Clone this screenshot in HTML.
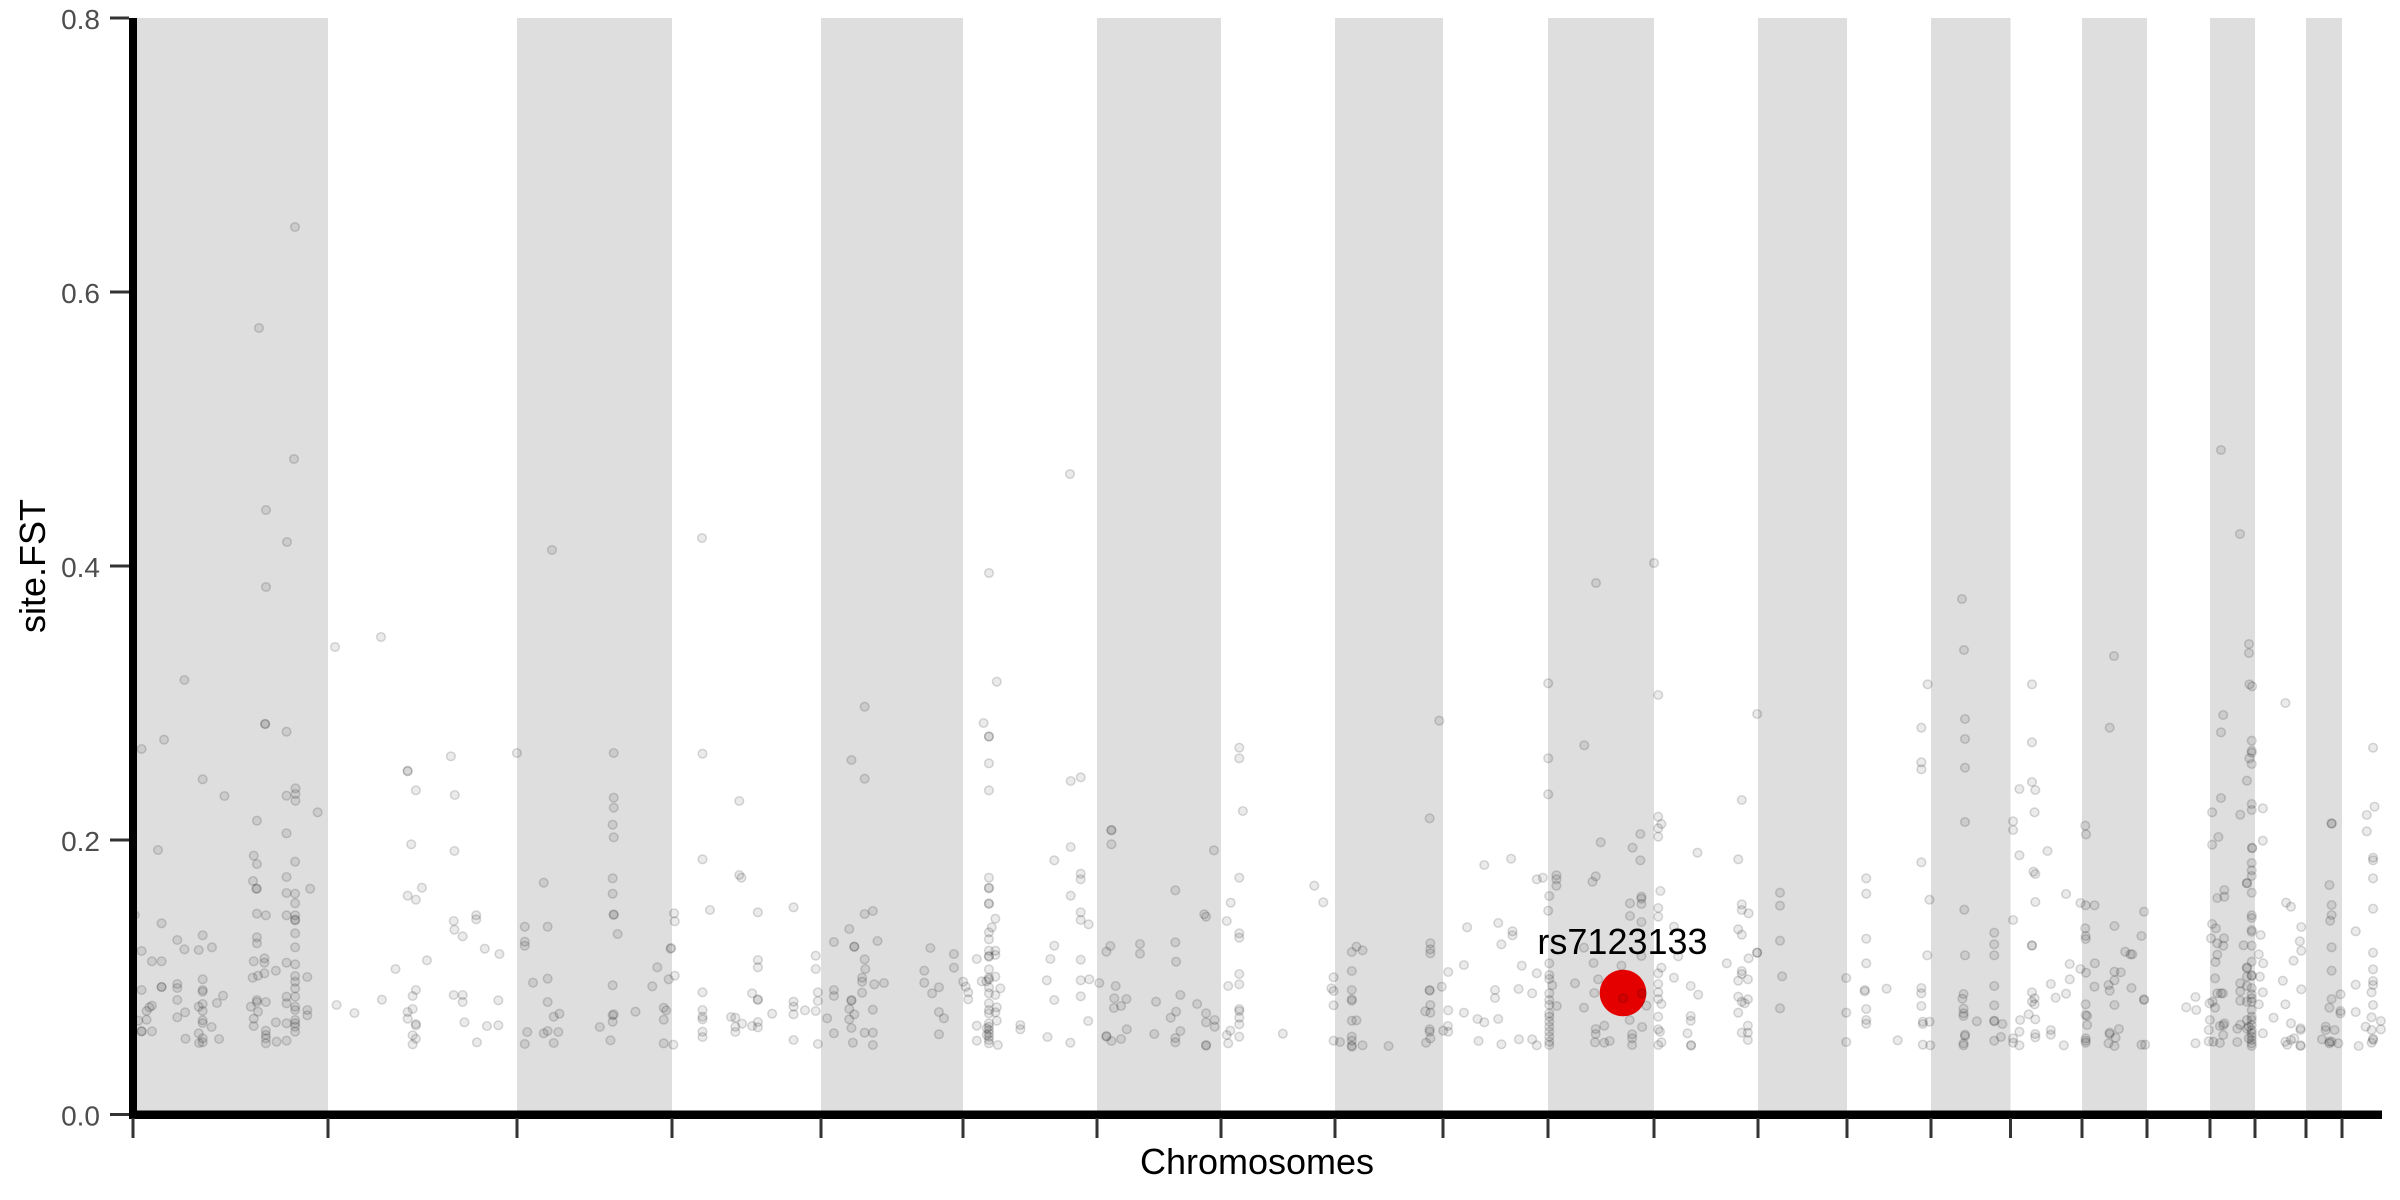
<!DOCTYPE html>
<html><head><meta charset="utf-8"><style>
html,body{margin:0;padding:0;background:#fff;}
svg{display:block;font-family:"Liberation Sans",Arial,sans-serif;}
.p{fill:#000;fill-opacity:.08;stroke:#000;stroke-opacity:.15;stroke-width:4.4;}
.q{fill:#000;fill-opacity:.08;stroke:#000;stroke-opacity:.15;stroke-width:1.5;}
.t{font-size:28px;fill:#4d4d4d;text-anchor:end;}
</style></head><body>
<svg width="2400" height="1200" viewBox="0 0 2400 1200" xmlns="http://www.w3.org/2000/svg">
<defs>
<ellipse id="a" cx="0" cy="0" rx="12.04" ry="12.9"/>
<ellipse id="b" cx="0" cy="0" rx="11.62" ry="12.9"/>
</defs>
<rect width="2400" height="1200" fill="#fff"/>
<g fill="#dedede">
<rect x="133" y="18" width="195" height="1094"/>
<rect x="517" y="18" width="155" height="1094"/>
<rect x="821" y="18" width="142" height="1094"/>
<rect x="1097" y="18" width="124" height="1094"/>
<rect x="1335" y="18" width="108" height="1094"/>
<rect x="1548" y="18" width="106" height="1094"/>
<rect x="1758" y="18" width="89" height="1094"/>
<rect x="1931" y="18" width="79.5" height="1094"/>
<rect x="2082" y="18" width="65" height="1094"/>
<rect x="2210" y="18" width="45" height="1094"/>
<rect x="2306" y="18" width="36" height="1094"/>
</g>
<circle cx="1623" cy="993" r="23.3" fill="#e50000"/>
<g class="q">
<circle cx="295" cy="227" r="4.3"/><circle cx="259" cy="328" r="4.3"/><circle cx="294" cy="459" r="4.3"/><circle cx="266" cy="510" r="4.3"/><circle cx="287" cy="542" r="4.3"/><circle cx="266" cy="587" r="4.3"/><circle cx="381" cy="637" r="4.3"/><circle cx="335" cy="647" r="4.3"/><circle cx="552" cy="550" r="4.3"/><circle cx="702" cy="538" r="4.3"/><circle cx="1070" cy="474" r="4.3"/><circle cx="989" cy="573" r="4.3"/><circle cx="1596" cy="583" r="4.3"/><circle cx="1654" cy="563" r="4.3"/><circle cx="1962" cy="599" r="4.3"/><circle cx="1964" cy="650" r="4.3"/><circle cx="2114" cy="656" r="4.3"/><circle cx="2221" cy="450" r="4.3"/><circle cx="2240" cy="534" r="4.3"/><circle cx="2249" cy="644" r="4.3"/><circle cx="2249" cy="653" r="4.3"/>
</g>
<g class="p" transform="translate(133,680) scale(0.35714,0.33333)">
<use href="#a" x="144" y="0"/><use href="#a" x="370" y="132"/><use href="#a" x="370" y="132"/><use href="#a" x="430" y="155"/><use href="#a" x="87" y="179"/><use href="#a" x="24" y="207"/><use href="#a" x="195" y="298"/><use href="#a" x="256" y="348"/><use href="#a" x="455" y="325"/><use href="#a" x="455" y="342"/><use href="#a" x="430" y="347"/><use href="#a" x="455" y="362"/><use href="#a" x="517" y="397"/><use href="#a" x="347" y="422"/><use href="#a" x="430" y="460"/><use href="#a" x="70" y="510"/><use href="#a" x="338" y="527"/><use href="#a" x="347" y="552"/><use href="#a" x="454" y="545"/><use href="#a" x="430" y="591"/><use href="#a" x="336" y="603"/><use href="#a" x="347" y="626"/><use href="#a" x="345" y="626"/><use href="#a" x="430" y="639"/><use href="#a" x="454" y="641"/><use href="#a" x="496" y="626"/><use href="#a" x="454" y="670"/><use href="#a" x="347" y="701"/><use href="#a" x="372" y="706"/><use href="#a" x="430" y="706"/><use href="#a" x="454" y="706"/><use href="#a" x="454" y="719"/><use href="#a" x="454" y="721"/><use href="#a" x="5" y="705"/><use href="#a" x="80" y="730"/><use href="#a" x="454" y="760"/><use href="#a" x="195" y="766"/><use href="#a" x="124" y="780"/><use href="#a" x="144" y="808"/><use href="#a" x="184" y="810"/><use href="#a" x="221" y="802"/><use href="#a" x="24" y="813"/><use href="#a" x="347" y="772"/><use href="#a" x="347" y="790"/><use href="#a" x="454" y="802"/><use href="#a" x="53" y="844"/><use href="#a" x="80" y="844"/><use href="#a" x="338" y="844"/><use href="#a" x="368" y="835"/><use href="#a" x="368" y="848"/><use href="#a" x="430" y="848"/><use href="#a" x="454" y="853"/><use href="#a" x="400" y="872"/><use href="#a" x="368" y="880"/><use href="#a" x="350" y="887"/><use href="#a" x="335" y="893"/><use href="#a" x="454" y="888"/><use href="#a" x="454" y="905"/><use href="#a" x="488" y="891"/><use href="#a" x="195" y="898"/><use href="#a" x="24" y="930"/><use href="#a" x="80" y="921"/><use href="#a" x="80" y="921"/><use href="#a" x="124" y="912"/><use href="#a" x="124" y="924"/><use href="#a" x="195" y="930"/><use href="#a" x="195" y="935"/><use href="#a" x="252" y="947"/><use href="#a" x="454" y="925"/><use href="#a" x="454" y="950"/><use href="#a" x="430" y="950"/><use href="#a" x="347" y="960"/><use href="#a" x="347" y="966"/><use href="#a" x="372" y="966"/><use href="#a" x="124" y="960"/><use href="#a" x="235" y="969"/><use href="#a" x="195" y="972"/><use href="#a" x="184" y="980"/><use href="#a" x="330" y="980"/><use href="#a" x="430" y="970"/><use href="#a" x="454" y="980"/><use href="#a" x="454" y="990"/><use href="#a" x="488" y="990"/><use href="#a" x="488" y="1006"/><use href="#a" x="38" y="993"/><use href="#a" x="53" y="977"/><use href="#a" x="46" y="982"/><use href="#a" x="146" y="997"/><use href="#a" x="195" y="993"/><use href="#a" x="350" y="995"/><use href="#a" x="124" y="1012"/><use href="#a" x="38" y="1019"/><use href="#a" x="15" y="1022"/><use href="#a" x="24" y="1054"/><use href="#a" x="24" y="1054"/><use href="#a" x="53" y="1054"/><use href="#a" x="195" y="1021"/><use href="#a" x="195" y="1029"/><use href="#a" x="220" y="1041"/><use href="#a" x="184" y="1060"/><use href="#a" x="338" y="1016"/><use href="#a" x="338" y="1038"/><use href="#a" x="400" y="1027"/><use href="#a" x="430" y="1030"/><use href="#a" x="454" y="1020"/><use href="#a" x="454" y="1030"/><use href="#a" x="454" y="1040"/><use href="#a" x="454" y="1055"/><use href="#a" x="372" y="1052"/><use href="#a" x="372" y="1065"/><use href="#a" x="372" y="1075"/><use href="#a" x="372" y="1090"/><use href="#a" x="402" y="1085"/><use href="#a" x="430" y="1082"/><use href="#a" x="147" y="1076"/><use href="#a" x="241" y="1077"/><use href="#a" x="195" y="1087"/><use href="#a" x="185" y="1089"/><use href="#a" x="195" y="1075"/>
<use href="#a" x="769" y="272"/><use href="#a" x="769" y="274"/><use href="#a" x="792" y="331"/><use href="#a" x="890" y="229"/><use href="#a" x="901" y="345"/><use href="#a" x="779" y="493"/><use href="#a" x="900" y="513"/><use href="#a" x="769" y="647"/><use href="#a" x="792" y="659"/><use href="#a" x="809" y="623"/><use href="#a" x="898" y="723"/><use href="#a" x="900" y="749"/><use href="#a" x="923" y="769"/><use href="#a" x="961" y="706"/><use href="#a" x="961" y="718"/><use href="#a" x="985" y="806"/><use href="#a" x="1026" y="822"/><use href="#a" x="823" y="841"/><use href="#a" x="735" y="867"/><use href="#a" x="792" y="930"/><use href="#a" x="783" y="948"/><use href="#a" x="898" y="945"/><use href="#a" x="923" y="945"/><use href="#a" x="923" y="966"/><use href="#a" x="1023" y="961"/><use href="#a" x="697" y="959"/><use href="#a" x="570" y="975"/><use href="#a" x="620" y="999"/><use href="#a" x="769" y="996"/><use href="#a" x="783" y="987"/><use href="#a" x="769" y="1016"/><use href="#a" x="792" y="1032"/><use href="#a" x="792" y="1036"/><use href="#a" x="783" y="1066"/><use href="#a" x="792" y="1076"/><use href="#a" x="783" y="1093"/><use href="#a" x="928" y="1027"/><use href="#a" x="991" y="1038"/><use href="#a" x="1023" y="1036"/><use href="#a" x="963" y="1087"/><use href="#a" x="1075" y="219"/>
<use href="#a" x="1346" y="219"/><use href="#a" x="1346" y="353"/><use href="#a" x="1346" y="383"/><use href="#a" x="1343" y="434"/><use href="#a" x="1346" y="472"/><use href="#a" x="1150" y="608"/><use href="#a" x="1343" y="595"/><use href="#a" x="1343" y="641"/><use href="#a" x="1346" y="703"/><use href="#a" x="1346" y="705"/><use href="#a" x="1357" y="762"/><use href="#a" x="1097" y="740"/><use href="#a" x="1161" y="740"/><use href="#a" x="1097" y="785"/><use href="#a" x="1097" y="797"/><use href="#a" x="1120" y="908"/><use href="#a" x="1161" y="896"/><use href="#a" x="1343" y="916"/><use href="#a" x="1161" y="966"/><use href="#a" x="1178" y="1010"/><use href="#a" x="1194" y="1001"/><use href="#a" x="1104" y="1056"/><use href="#a" x="1150" y="1060"/><use href="#a" x="1161" y="1053"/><use href="#a" x="1191" y="1056"/><use href="#a" x="1097" y="1092"/><use href="#a" x="1178" y="1089"/><use href="#a" x="1307" y="1041"/><use href="#a" x="1343" y="1006"/><use href="#a" x="1346" y="1003"/><use href="#a" x="1343" y="1025"/><use href="#a" x="1407" y="995"/><use href="#a" x="1337" y="1081"/><use href="#a" x="1468" y="862"/><use href="#a" x="1454" y="919"/><use href="#a" x="1500" y="898"/><use href="#a" x="1486" y="983"/><use href="#a" x="1493" y="991"/><use href="#a" x="1486" y="1019"/><use href="#a" x="1486" y="1090"/><use href="#a" x="1513" y="1094"/><use href="#a" x="1515" y="700"/><use href="#a" x="1517" y="724"/><use href="#a" x="1505" y="806"/><use href="#a" x="1507" y="804"/><use href="#a" x="1517" y="887"/>
</g>
<g class="p" transform="translate(690,680) scale(0.35714,0.33333)">
<use href="#a" x="35" y="221"/><use href="#a" x="138" y="363"/><use href="#a" x="35" y="538"/><use href="#a" x="138" y="585"/><use href="#a" x="144" y="593"/><use href="#a" x="56" y="690"/><use href="#a" x="190" y="697"/><use href="#a" x="290" y="682"/><use href="#a" x="190" y="840"/><use href="#a" x="190" y="862"/><use href="#a" x="35" y="937"/><use href="#a" x="174" y="940"/><use href="#a" x="190" y="958"/><use href="#a" x="190" y="960"/><use href="#a" x="35" y="990"/><use href="#a" x="35" y="1010"/><use href="#a" x="35" y="1018"/><use href="#a" x="35" y="1055"/><use href="#a" x="35" y="1071"/><use href="#a" x="115" y="1011"/><use href="#a" x="127" y="1013"/><use href="#a" x="127" y="1040"/><use href="#a" x="127" y="1056"/><use href="#a" x="146" y="1031"/><use href="#a" x="174" y="1038"/><use href="#a" x="190" y="1026"/><use href="#a" x="190" y="1042"/><use href="#a" x="230" y="1001"/><use href="#a" x="290" y="965"/><use href="#a" x="290" y="980"/><use href="#a" x="290" y="1003"/><use href="#a" x="290" y="1080"/><use href="#a" x="322" y="991"/><use href="#a" x="352" y="993"/><use href="#a" x="358" y="963"/><use href="#a" x="358" y="937"/><use href="#a" x="352" y="867"/><use href="#a" x="352" y="827"/><use href="#a" x="358" y="1092"/>
<use href="#a" x="489" y="80"/><use href="#a" x="452" y="240"/><use href="#a" x="489" y="296"/><use href="#a" x="489" y="702"/><use href="#a" x="512" y="693"/><use href="#a" x="446" y="747"/><use href="#a" x="403" y="786"/><use href="#a" x="460" y="800"/><use href="#a" x="460" y="800"/><use href="#a" x="525" y="783"/><use href="#a" x="489" y="838"/><use href="#a" x="491" y="867"/><use href="#a" x="482" y="893"/><use href="#a" x="482" y="905"/><use href="#a" x="516" y="913"/><use href="#a" x="543" y="909"/><use href="#a" x="403" y="930"/><use href="#a" x="403" y="948"/><use href="#a" x="452" y="960"/><use href="#a" x="452" y="962"/><use href="#a" x="446" y="987"/><use href="#a" x="460" y="1003"/><use href="#a" x="446" y="1018"/><use href="#a" x="384" y="1015"/><use href="#a" x="452" y="1044"/><use href="#a" x="403" y="1060"/><use href="#a" x="489" y="1058"/><use href="#a" x="512" y="1058"/><use href="#a" x="512" y="989"/><use href="#a" x="456" y="1088"/><use href="#a" x="512" y="1095"/><use href="#a" x="673" y="804"/><use href="#a" x="739" y="822"/><use href="#a" x="739" y="863"/><use href="#a" x="656" y="872"/><use href="#a" x="656" y="908"/><use href="#a" x="678" y="940"/><use href="#a" x="697" y="922"/><use href="#a" x="697" y="996"/><use href="#a" x="711" y="1015"/><use href="#a" x="697" y="1063"/><use href="#a" x="482" y="938"/>
<use href="#a" x="859" y="5"/><use href="#a" x="822" y="129"/><use href="#a" x="837" y="169"/><use href="#a" x="837" y="170"/><use href="#a" x="837" y="250"/><use href="#a" x="837" y="331"/><use href="#a" x="837" y="593"/><use href="#a" x="837" y="623"/><use href="#a" x="837" y="625"/><use href="#a" x="837" y="670"/><use href="#a" x="837" y="672"/><use href="#a" x="855" y="716"/><use href="#a" x="845" y="742"/><use href="#a" x="837" y="757"/><use href="#a" x="837" y="778"/><use href="#a" x="837" y="812"/><use href="#a" x="855" y="812"/><use href="#a" x="837" y="828"/><use href="#a" x="837" y="830"/><use href="#a" x="855" y="825"/><use href="#a" x="803" y="837"/><use href="#a" x="837" y="868"/><use href="#a" x="855" y="890"/><use href="#a" x="837" y="893"/><use href="#a" x="837" y="898"/><use href="#a" x="830" y="904"/><use href="#a" x="817" y="904"/><use href="#a" x="837" y="922"/><use href="#a" x="869" y="925"/><use href="#a" x="837" y="940"/><use href="#a" x="855" y="945"/><use href="#a" x="837" y="970"/><use href="#a" x="859" y="982"/><use href="#a" x="837" y="990"/><use href="#a" x="855" y="997"/><use href="#a" x="837" y="1000"/><use href="#a" x="859" y="1022"/><use href="#a" x="837" y="1030"/><use href="#a" x="837" y="1040"/><use href="#a" x="837" y="1050"/><use href="#a" x="837" y="1060"/><use href="#a" x="837" y="1070"/><use href="#a" x="837" y="1080"/><use href="#a" x="837" y="1090"/><use href="#a" x="831" y="1045"/><use href="#a" x="831" y="1065"/><use href="#a" x="803" y="1037"/><use href="#a" x="803" y="1082"/><use href="#a" x="862" y="1095"/><use href="#a" x="765" y="905"/><use href="#a" x="772" y="920"/><use href="#a" x="779" y="937"/><use href="#a" x="779" y="958"/><use href="#a" x="925" y="1035"/><use href="#a" x="925" y="1048"/><use href="#a" x="1001" y="1071"/><use href="#a" x="1065" y="1088"/><use href="#a" x="1020" y="541"/><use href="#a" x="1066" y="501"/><use href="#a" x="1066" y="303"/><use href="#a" x="1094" y="292"/><use href="#a" x="1066" y="647"/><use href="#a" x="1094" y="581"/><use href="#a" x="1094" y="598"/><use href="#a" x="1094" y="697"/><use href="#a" x="1094" y="720"/><use href="#a" x="1116" y="733"/><use href="#a" x="1020" y="797"/><use href="#a" x="1009" y="837"/><use href="#a" x="1094" y="839"/><use href="#a" x="999" y="901"/><use href="#a" x="1094" y="901"/><use href="#a" x="1118" y="898"/><use href="#a" x="1020" y="960"/><use href="#a" x="1094" y="949"/><use href="#a" x="1115" y="1023"/><use href="#a" x="1146" y="909"/>
<use href="#a" x="1180" y="450"/><use href="#a" x="1180" y="451"/><use href="#a" x="1180" y="493"/><use href="#a" x="1467" y="511"/><use href="#a" x="1359" y="631"/><use href="#a" x="1177" y="798"/><use href="#a" x="1166" y="815"/><use href="#a" x="1260" y="792"/><use href="#a" x="1260" y="821"/><use href="#a" x="1359" y="787"/><use href="#a" x="1361" y="845"/><use href="#a" x="1192" y="918"/><use href="#a" x="1188" y="955"/><use href="#a" x="1222" y="957"/><use href="#a" x="1187" y="984"/><use href="#a" x="1207" y="978"/><use href="#a" x="1305" y="965"/><use href="#a" x="1373" y="945"/><use href="#a" x="1420" y="972"/><use href="#a" x="1361" y="995"/><use href="#a" x="1346" y="1013"/><use href="#a" x="1445" y="1000"/><use href="#a" x="1445" y="1027"/><use href="#a" x="1469" y="1020"/><use href="#a" x="1469" y="1040"/><use href="#a" x="1223" y="1048"/><use href="#a" x="1166" y="1070"/><use href="#a" x="1166" y="1068"/><use href="#a" x="1180" y="1083"/><use href="#a" x="1207" y="1077"/><use href="#a" x="1300" y="1062"/><use href="#a" x="1359" y="1074"/><use href="#a" x="1359" y="1087"/><use href="#a" x="1373" y="1053"/><use href="#a" x="1445" y="1095"/><use href="#a" x="1445" y="1097"/><use href="#a" x="1440" y="703"/><use href="#a" x="1445" y="710"/>
<use href="#a" x="1538" y="203"/><use href="#a" x="1538" y="235"/><use href="#a" x="1548" y="393"/><use href="#a" x="1538" y="593"/><use href="#a" x="1514" y="668"/><use href="#a" x="1503" y="723"/><use href="#a" x="1538" y="760"/><use href="#a" x="1538" y="773"/><use href="#a" x="1538" y="882"/><use href="#a" x="1538" y="913"/><use href="#a" x="1507" y="918"/><use href="#a" x="1538" y="987"/><use href="#a" x="1538" y="993"/><use href="#a" x="1538" y="1013"/><use href="#a" x="1538" y="1033"/><use href="#a" x="1538" y="1070"/><use href="#a" x="1513" y="1052"/><use href="#a" x="1503" y="1065"/><use href="#a" x="1507" y="1090"/>
</g>
<g class="p" transform="translate(1250,680) scale(0.35714,0.33333)">
<use href="#a" x="180" y="617"/><use href="#a" x="205" y="667"/><use href="#a" x="234" y="892"/><use href="#a" x="228" y="925"/><use href="#a" x="234" y="933"/><use href="#a" x="234" y="976"/><use href="#a" x="92" y="1061"/><use href="#a" x="234" y="1082"/><use href="#a" x="252" y="1086"/>
<use href="#a" x="285" y="816"/><use href="#a" x="298" y="800"/><use href="#a" x="315" y="811"/><use href="#a" x="285" y="873"/><use href="#a" x="285" y="930"/><use href="#a" x="285" y="958"/><use href="#a" x="285" y="962"/><use href="#a" x="285" y="1022"/><use href="#a" x="298" y="1021"/><use href="#a" x="285" y="1070"/><use href="#a" x="285" y="1082"/><use href="#a" x="285" y="1097"/><use href="#a" x="285" y="1100"/><use href="#a" x="315" y="1096"/><use href="#a" x="388" y="1098"/><use href="#a" x="503" y="415"/><use href="#a" x="530" y="122"/><use href="#a" x="505" y="790"/><use href="#a" x="505" y="808"/><use href="#a" x="505" y="820"/><use href="#a" x="503" y="930"/><use href="#a" x="503" y="932"/><use href="#a" x="537" y="920"/><use href="#a" x="505" y="975"/><use href="#a" x="505" y="998"/><use href="#a" x="491" y="994"/><use href="#a" x="503" y="1048"/><use href="#a" x="503" y="1055"/><use href="#a" x="493" y="1088"/><use href="#a" x="505" y="1075"/>
<use href="#a" x="555" y="876"/><use href="#a" x="599" y="855"/><use href="#a" x="608" y="742"/><use href="#a" x="656" y="555"/><use href="#a" x="731" y="536"/><use href="#a" x="695" y="729"/><use href="#a" x="735" y="754"/><use href="#a" x="735" y="766"/><use href="#a" x="704" y="793"/><use href="#a" x="761" y="857"/><use href="#a" x="803" y="880"/><use href="#a" x="752" y="927"/><use href="#a" x="790" y="940"/><use href="#a" x="686" y="930"/><use href="#a" x="686" y="954"/><use href="#a" x="555" y="991"/><use href="#a" x="554" y="1038"/><use href="#a" x="541" y="1052"/><use href="#a" x="555" y="1055"/><use href="#a" x="599" y="998"/><use href="#a" x="637" y="1017"/><use href="#a" x="656" y="1027"/><use href="#a" x="695" y="1017"/><use href="#a" x="640" y="1083"/><use href="#a" x="704" y="1093"/><use href="#a" x="753" y="1078"/><use href="#a" x="790" y="1078"/><use href="#a" x="803" y="1096"/><use href="#a" x="803" y="598"/><use href="#a" x="820" y="593"/>
<use href="#a" x="835" y="10"/><use href="#a" x="936" y="196"/><use href="#a" x="835" y="235"/><use href="#a" x="835" y="343"/><use href="#a" x="982" y="487"/><use href="#a" x="1071" y="503"/><use href="#a" x="1093" y="462"/><use href="#a" x="1093" y="541"/><use href="#a" x="858" y="586"/><use href="#a" x="858" y="598"/><use href="#a" x="858" y="617"/><use href="#a" x="968" y="589"/><use href="#a" x="959" y="605"/><use href="#a" x="838" y="648"/><use href="#a" x="835" y="692"/><use href="#a" x="1064" y="670"/><use href="#a" x="1096" y="650"/><use href="#a" x="1096" y="656"/><use href="#a" x="1096" y="672"/><use href="#a" x="1064" y="708"/><use href="#a" x="1096" y="726"/><use href="#a" x="935" y="803"/><use href="#a" x="1096" y="828"/><use href="#a" x="962" y="849"/><use href="#a" x="1040" y="857"/><use href="#a" x="838" y="850"/><use href="#a" x="838" y="885"/><use href="#a" x="838" y="897"/><use href="#a" x="846" y="916"/><use href="#a" x="838" y="940"/><use href="#a" x="838" y="960"/><use href="#a" x="838" y="975"/><use href="#a" x="859" y="978"/><use href="#a" x="838" y="1000"/><use href="#a" x="838" y="1010"/><use href="#a" x="838" y="1025"/><use href="#a" x="838" y="1040"/><use href="#a" x="838" y="1055"/><use href="#a" x="838" y="1070"/><use href="#a" x="838" y="1085"/><use href="#a" x="838" y="1095"/><use href="#a" x="910" y="910"/><use href="#a" x="975" y="898"/><use href="#a" x="964" y="939"/><use href="#a" x="935" y="983"/><use href="#a" x="1097" y="940"/><use href="#a" x="1110" y="977"/><use href="#a" x="1063" y="1020"/><use href="#a" x="992" y="1037"/><use href="#a" x="968" y="1047"/><use href="#a" x="968" y="1062"/><use href="#a" x="966" y="1087"/><use href="#a" x="992" y="1088"/><use href="#a" x="1007" y="1083"/><use href="#a" x="1070" y="1063"/><use href="#a" x="1070" y="1075"/><use href="#a" x="1070" y="1095"/><use href="#a" x="1098" y="1041"/><use href="#a" x="1045" y="955"/>
<use href="#a" x="1143" y="45"/><use href="#a" x="1143" y="410"/><use href="#a" x="1152" y="432"/><use href="#a" x="1143" y="445"/><use href="#a" x="1143" y="470"/><use href="#a" x="1253" y="518"/><use href="#a" x="1149" y="633"/><use href="#a" x="1143" y="684"/><use href="#a" x="1143" y="710"/><use href="#a" x="1187" y="740"/><use href="#a" x="1199" y="829"/><use href="#a" x="1152" y="863"/><use href="#a" x="1143" y="880"/><use href="#a" x="1187" y="893"/><use href="#a" x="1143" y="912"/><use href="#a" x="1143" y="937"/><use href="#a" x="1143" y="957"/><use href="#a" x="1152" y="972"/><use href="#a" x="1143" y="1010"/><use href="#a" x="1143" y="1048"/><use href="#a" x="1148" y="1055"/><use href="#a" x="1152" y="1087"/><use href="#a" x="1143" y="1095"/><use href="#a" x="1234" y="918"/><use href="#a" x="1255" y="944"/><use href="#a" x="1234" y="1008"/><use href="#a" x="1234" y="1022"/><use href="#a" x="1225" y="1060"/><use href="#a" x="1235" y="1095"/><use href="#a" x="1235" y="1097"/><use href="#a" x="1335" y="850"/><use href="#a" x="1367" y="538"/><use href="#a" x="1377" y="360"/><use href="#a" x="1420" y="102"/><use href="#a" x="1377" y="673"/><use href="#a" x="1377" y="690"/><use href="#a" x="1396" y="700"/><use href="#a" x="1367" y="748"/><use href="#a" x="1377" y="764"/><use href="#a" x="1396" y="835"/><use href="#a" x="1420" y="818"/><use href="#a" x="1420" y="818"/><use href="#a" x="1377" y="873"/><use href="#a" x="1377" y="882"/><use href="#a" x="1367" y="902"/><use href="#a" x="1394" y="898"/><use href="#a" x="1367" y="950"/><use href="#a" x="1394" y="958"/><use href="#a" x="1377" y="965"/><use href="#a" x="1385" y="970"/><use href="#a" x="1367" y="998"/><use href="#a" x="1394" y="1037"/><use href="#a" x="1394" y="1058"/><use href="#a" x="1377" y="1058"/><use href="#a" x="1394" y="1080"/>
<use href="#a" x="1484" y="638"/><use href="#a" x="1484" y="677"/><use href="#a" x="1484" y="782"/><use href="#a" x="1490" y="889"/><use href="#a" x="1484" y="985"/>
</g>
<g class="p" transform="translate(1810,680) scale(0.36995,0.33333)">
<use href="#b" x="98" y="894"/><use href="#b" x="98" y="998"/><use href="#b" x="98" y="1086"/>
<use href="#b" x="152" y="595"/><use href="#b" x="152" y="641"/><use href="#b" x="152" y="776"/><use href="#b" x="152" y="850"/><use href="#b" x="148" y="930"/><use href="#b" x="148" y="934"/><use href="#b" x="152" y="987"/><use href="#b" x="152" y="1020"/><use href="#b" x="152" y="1031"/><use href="#b" x="207" y="926"/><use href="#b" x="237" y="1081"/><use href="#b" x="301" y="143"/><use href="#b" x="301" y="247"/><use href="#b" x="301" y="268"/><use href="#b" x="301" y="547"/><use href="#b" x="323" y="659"/><use href="#b" x="317" y="826"/><use href="#b" x="301" y="924"/><use href="#b" x="301" y="940"/><use href="#b" x="301" y="978"/><use href="#b" x="305" y="1025"/><use href="#b" x="305" y="1032"/><use href="#b" x="323" y="1025"/><use href="#b" x="305" y="1094"/><use href="#b" x="325" y="1096"/><use href="#b" x="318" y="13"/>
<use href="#b" x="419" y="117"/><use href="#b" x="419" y="177"/><use href="#b" x="419" y="263"/><use href="#b" x="419" y="426"/><use href="#b" x="417" y="689"/><use href="#b" x="419" y="826"/><use href="#b" x="415" y="942"/><use href="#b" x="412" y="956"/><use href="#b" x="415" y="986"/><use href="#b" x="415" y="1000"/><use href="#b" x="415" y="1008"/><use href="#b" x="419" y="1064"/><use href="#b" x="419" y="1068"/><use href="#b" x="415" y="1090"/><use href="#b" x="415" y="1096"/><use href="#b" x="451" y="1024"/><use href="#b" x="498" y="758"/><use href="#b" x="498" y="793"/><use href="#b" x="498" y="826"/><use href="#b" x="498" y="918"/><use href="#b" x="498" y="976"/><use href="#b" x="498" y="1022"/><use href="#b" x="498" y="1024"/><use href="#b" x="520" y="1032"/><use href="#b" x="516" y="1071"/><use href="#b" x="498" y="1082"/>
<use href="#b" x="600" y="13"/><use href="#b" x="600" y="187"/><use href="#b" x="600" y="306"/><use href="#b" x="609" y="330"/><use href="#b" x="607" y="397"/><use href="#b" x="549" y="424"/><use href="#b" x="549" y="450"/><use href="#b" x="566" y="327"/><use href="#b" x="566" y="526"/><use href="#b" x="642" y="513"/><use href="#b" x="604" y="575"/><use href="#b" x="609" y="582"/><use href="#b" x="609" y="666"/><use href="#b" x="549" y="720"/><use href="#b" x="692" y="642"/><use href="#b" x="731" y="669"/><use href="#b" x="600" y="796"/><use href="#b" x="600" y="797"/><use href="#b" x="702" y="852"/><use href="#b" x="702" y="898"/><use href="#b" x="731" y="867"/><use href="#b" x="651" y="912"/><use href="#b" x="692" y="941"/><use href="#b" x="664" y="953"/><use href="#b" x="600" y="937"/><use href="#b" x="607" y="955"/><use href="#b" x="607" y="973"/><use href="#b" x="600" y="965"/><use href="#b" x="591" y="1003"/><use href="#b" x="568" y="1020"/><use href="#b" x="609" y="1018"/><use href="#b" x="566" y="1055"/><use href="#b" x="549" y="1075"/><use href="#b" x="549" y="1088"/><use href="#b" x="566" y="1096"/><use href="#b" x="609" y="1062"/><use href="#b" x="609" y="1072"/><use href="#b" x="651" y="1050"/><use href="#b" x="651" y="1064"/><use href="#b" x="686" y="1096"/>
<use href="#b" x="744" y="437"/><use href="#b" x="746" y="463"/><use href="#b" x="745" y="676"/><use href="#b" x="769" y="676"/><use href="#b" x="810" y="143"/><use href="#b" x="744" y="745"/><use href="#b" x="745" y="768"/><use href="#b" x="745" y="777"/><use href="#b" x="823" y="738"/><use href="#b" x="896" y="768"/><use href="#b" x="903" y="695"/><use href="#b" x="770" y="850"/><use href="#b" x="746" y="878"/><use href="#b" x="852" y="815"/><use href="#b" x="871" y="823"/><use href="#b" x="866" y="823"/><use href="#b" x="823" y="875"/><use href="#b" x="840" y="877"/><use href="#b" x="823" y="901"/><use href="#b" x="807" y="915"/><use href="#b" x="810" y="932"/><use href="#b" x="769" y="920"/><use href="#b" x="869" y="924"/><use href="#b" x="903" y="958"/><use href="#b" x="903" y="960"/><use href="#b" x="745" y="973"/><use href="#b" x="823" y="975"/><use href="#b" x="745" y="1005"/><use href="#b" x="749" y="1008"/><use href="#b" x="749" y="1035"/><use href="#b" x="745" y="1075"/><use href="#b" x="745" y="1082"/><use href="#b" x="745" y="1088"/><use href="#b" x="810" y="1058"/><use href="#b" x="810" y="1062"/><use href="#b" x="835" y="1047"/><use href="#b" x="826" y="1073"/><use href="#b" x="807" y="1090"/><use href="#b" x="823" y="1098"/><use href="#b" x="896" y="1094"/><use href="#b" x="906" y="1094"/>
<use href="#b" x="1017" y="982"/><use href="#b" x="1042" y="951"/><use href="#b" x="1044" y="990"/><use href="#b" x="1042" y="1090"/>
<use href="#b" x="1188" y="13"/><use href="#b" x="1195" y="19"/><use href="#b" x="1117" y="105"/><use href="#b" x="1111" y="157"/><use href="#b" x="1111" y="354"/><use href="#b" x="1087" y="397"/><use href="#b" x="1104" y="471"/><use href="#b" x="1087" y="494"/><use href="#b" x="1194" y="182"/><use href="#b" x="1194" y="212"/><use href="#b" x="1194" y="218"/><use href="#b" x="1188" y="235"/><use href="#b" x="1194" y="252"/><use href="#b" x="1181" y="302"/><use href="#b" x="1194" y="372"/><use href="#b" x="1194" y="390"/><use href="#b" x="1163" y="404"/><use href="#b" x="1195" y="503"/><use href="#b" x="1195" y="505"/><use href="#b" x="1194" y="549"/><use href="#b" x="1194" y="571"/><use href="#b" x="1194" y="588"/><use href="#b" x="1181" y="609"/><use href="#b" x="1181" y="610"/><use href="#b" x="1194" y="638"/><use href="#b" x="1120" y="630"/><use href="#b" x="1120" y="650"/><use href="#b" x="1101" y="654"/><use href="#b" x="1087" y="732"/><use href="#b" x="1097" y="745"/><use href="#b" x="1119" y="775"/><use href="#b" x="1084" y="775"/><use href="#b" x="1101" y="790"/><use href="#b" x="1117" y="797"/><use href="#b" x="1101" y="824"/><use href="#b" x="1096" y="846"/><use href="#b" x="1194" y="706"/><use href="#b" x="1194" y="714"/><use href="#b" x="1194" y="750"/><use href="#b" x="1194" y="755"/><use href="#b" x="1172" y="796"/><use href="#b" x="1194" y="797"/><use href="#b" x="1194" y="845"/><use href="#b" x="1181" y="862"/><use href="#b" x="1181" y="865"/><use href="#b" x="1194" y="886"/><use href="#b" x="1194" y="888"/><use href="#b" x="1181" y="890"/><use href="#b" x="1095" y="895"/><use href="#b" x="1163" y="910"/><use href="#b" x="1181" y="918"/><use href="#b" x="1194" y="924"/><use href="#b" x="1163" y="934"/><use href="#b" x="1194" y="943"/><use href="#b" x="1194" y="955"/><use href="#b" x="1194" y="965"/><use href="#b" x="1181" y="965"/><use href="#b" x="1163" y="962"/><use href="#b" x="1111" y="940"/><use href="#b" x="1116" y="940"/><use href="#b" x="1101" y="940"/><use href="#b" x="1088" y="965"/><use href="#b" x="1080" y="970"/><use href="#b" x="1095" y="983"/><use href="#b" x="1194" y="990"/><use href="#b" x="1194" y="1010"/><use href="#b" x="1194" y="1020"/><use href="#b" x="1181" y="1020"/><use href="#b" x="1194" y="1035"/><use href="#b" x="1194" y="1050"/><use href="#b" x="1194" y="1060"/><use href="#b" x="1194" y="1070"/><use href="#b" x="1194" y="1080"/><use href="#b" x="1194" y="1090"/><use href="#b" x="1194" y="1098"/><use href="#b" x="1186" y="1040"/><use href="#b" x="1186" y="1075"/><use href="#b" x="1163" y="1034"/><use href="#b" x="1155" y="1046"/><use href="#b" x="1181" y="1046"/><use href="#b" x="1120" y="1030"/><use href="#b" x="1117" y="1036"/><use href="#b" x="1081" y="1020"/><use href="#b" x="1078" y="1050"/><use href="#b" x="1078" y="1084"/><use href="#b" x="1090" y="1085"/><use href="#b" x="1108" y="1089"/><use href="#b" x="1155" y="1086"/><use href="#b" x="1117" y="1065"/><use href="#b" x="1108" y="1038"/>
<use href="#b" x="1285" y="69"/><use href="#b" x="1224" y="385"/><use href="#b" x="1224" y="482"/><use href="#b" x="1213" y="823"/><use href="#b" x="1218" y="765"/><use href="#b" x="1225" y="850"/><use href="#b" x="1216" y="890"/><use href="#b" x="1224" y="937"/><use href="#b" x="1213" y="973"/><use href="#b" x="1224" y="1060"/><use href="#b" x="1253" y="1013"/><use href="#b" x="1287" y="668"/><use href="#b" x="1300" y="680"/><use href="#b" x="1328" y="741"/><use href="#b" x="1324" y="784"/><use href="#b" x="1328" y="812"/><use href="#b" x="1307" y="842"/><use href="#b" x="1278" y="902"/><use href="#b" x="1328" y="928"/><use href="#b" x="1285" y="973"/><use href="#b" x="1300" y="1030"/><use href="#b" x="1326" y="1045"/><use href="#b" x="1326" y="1050"/><use href="#b" x="1309" y="1075"/><use href="#b" x="1300" y="1080"/><use href="#b" x="1285" y="1085"/><use href="#b" x="1290" y="1094"/><use href="#b" x="1326" y="1096"/><use href="#b" x="1326" y="1098"/>
<use href="#b" x="1410" y="430"/><use href="#b" x="1410" y="431"/><use href="#b" x="1404" y="615"/><use href="#b" x="1410" y="675"/><use href="#b" x="1410" y="705"/><use href="#b" x="1406" y="722"/><use href="#b" x="1410" y="802"/><use href="#b" x="1410" y="872"/><use href="#b" x="1410" y="957"/><use href="#b" x="1404" y="983"/><use href="#b" x="1434" y="943"/><use href="#b" x="1434" y="993"/><use href="#b" x="1434" y="1000"/><use href="#b" x="1394" y="1040"/><use href="#b" x="1394" y="1050"/><use href="#b" x="1418" y="1050"/><use href="#b" x="1384" y="1078"/><use href="#b" x="1404" y="1090"/><use href="#b" x="1404" y="1085"/><use href="#b" x="1410" y="1085"/><use href="#b" x="1428" y="1090"/>
<use href="#b" x="1522" y="203"/><use href="#b" x="1526" y="380"/><use href="#b" x="1505" y="405"/><use href="#b" x="1505" y="454"/><use href="#b" x="1522" y="533"/><use href="#b" x="1522" y="541"/><use href="#b" x="1522" y="595"/><use href="#b" x="1522" y="686"/><use href="#b" x="1475" y="754"/><use href="#b" x="1522" y="818"/><use href="#b" x="1522" y="868"/><use href="#b" x="1522" y="903"/><use href="#b" x="1522" y="915"/><use href="#b" x="1518" y="937"/><use href="#b" x="1475" y="914"/><use href="#b" x="1522" y="975"/><use href="#b" x="1518" y="1012"/><use href="#b" x="1475" y="996"/><use href="#b" x="1502" y="1040"/><use href="#b" x="1518" y="1050"/><use href="#b" x="1522" y="1076"/><use href="#b" x="1522" y="1080"/><use href="#b" x="1518" y="1088"/><use href="#b" x="1483" y="1098"/><use href="#b" x="1543" y="1023"/><use href="#b" x="1543" y="1048"/>
</g>
<text x="1622.5" y="954" font-size="36" fill="#000" text-anchor="middle">rs7123133</text>
<rect x="129" y="18" width="8" height="1100.5" fill="#000"/>
<rect x="129" y="1110.5" width="2253" height="8.5" fill="#000"/>
<g stroke="#333" stroke-width="3">
<line x1="110" y1="18" x2="129" y2="18"/><line x1="110" y1="292" x2="129" y2="292"/><line x1="110" y1="566" x2="129" y2="566"/><line x1="110" y1="840" x2="129" y2="840"/><line x1="110" y1="1114.5" x2="129" y2="1114.5"/>
<line x1="133" y1="1118" x2="133" y2="1138"/><line x1="328" y1="1118" x2="328" y2="1138"/><line x1="517" y1="1118" x2="517" y2="1138"/><line x1="672" y1="1118" x2="672" y2="1138"/><line x1="821" y1="1118" x2="821" y2="1138"/><line x1="963" y1="1118" x2="963" y2="1138"/><line x1="1097" y1="1118" x2="1097" y2="1138"/><line x1="1221" y1="1118" x2="1221" y2="1138"/><line x1="1335" y1="1118" x2="1335" y2="1138"/><line x1="1443" y1="1118" x2="1443" y2="1138"/><line x1="1548" y1="1118" x2="1548" y2="1138"/><line x1="1654" y1="1118" x2="1654" y2="1138"/><line x1="1758" y1="1118" x2="1758" y2="1138"/><line x1="1847" y1="1118" x2="1847" y2="1138"/><line x1="1931" y1="1118" x2="1931" y2="1138"/><line x1="2010.5" y1="1118" x2="2010.5" y2="1138"/><line x1="2082" y1="1118" x2="2082" y2="1138"/><line x1="2147" y1="1118" x2="2147" y2="1138"/><line x1="2210" y1="1118" x2="2210" y2="1138"/><line x1="2255" y1="1118" x2="2255" y2="1138"/><line x1="2306" y1="1118" x2="2306" y2="1138"/><line x1="2342" y1="1118" x2="2342" y2="1138"/>
</g>
<text class="t" x="100" y="29">0.8</text>
<text class="t" x="100" y="303">0.6</text>
<text class="t" x="100" y="577">0.4</text>
<text class="t" x="100" y="851">0.2</text>
<text class="t" x="100" y="1125.5">0.0</text>
<text x="1257" y="1174" font-size="36" fill="#000" text-anchor="middle">Chromosomes</text>
<text transform="translate(45,566) rotate(-90)" font-size="36" fill="#000" text-anchor="middle">site.FST</text>
</svg>
</body></html>
